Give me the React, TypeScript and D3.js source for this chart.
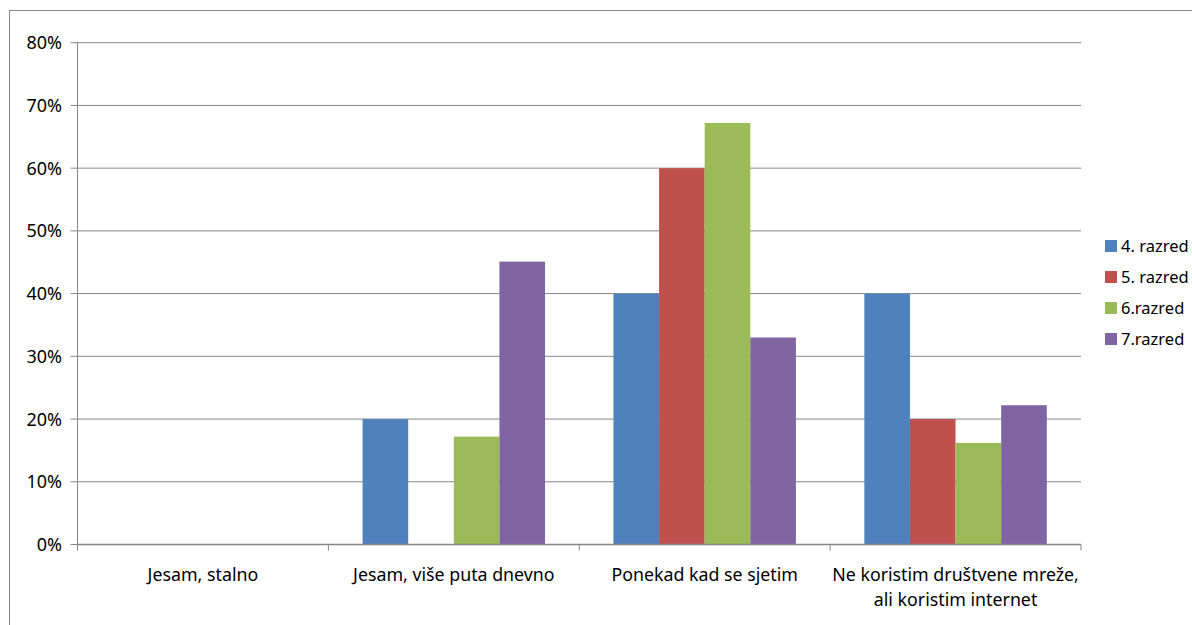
import React from "react";
import * as d3 from "d3";

const categories = [
  "Jesam, stalno",
  "Jesam, više puta dnevno",
  "Ponekad kad se sjetim",
  "Ne koristim društvene mreže,|ali koristim internet",
];
const seriesNames = ["4. razred", "5. razred", "6.razred", "7.razred"];
const seriesColors = ["#4F81BD", "#C0504D", "#9BBB59", "#8064A2"];
const razred4 = [0, 20, 40, 40];
const razred5 = [0, 0, 60, 20];
const razred6 = [0, 17.2, 67.2, 16.2];
const razred7 = [0, 45.1, 33.0, 22.2];
const yTicks = [0, 10, 20, 30, 40, 50, 60, 70, 80];

const seriesValues = [razred4, razred5, razred6, razred7];

export default function App() {
  const W = 1192;
  const H = 625;
  const left = 77.5;
  const right = 1081;
  const top = 42.7;
  const bottom = 544.5;
  const font = "Noto Sans, sans-serif";

  const x0 = d3
    .scaleBand<number>()
    .domain(categories.map((_, i) => i))
    .range([left, right])
    .paddingInner(0)
    .paddingOuter(0);
  const bw = x0.bandwidth();
  const barW = bw / 5.5;
  const x1 = d3
    .scaleBand<number>()
    .domain(seriesNames.map((_, i) => i))
    .range([barW * 0.75, bw - barW * 0.75]);
  const y = d3.scaleLinear().domain([0, 80]).range([bottom, top]);

  const grid = "#868686";

  return (
    <svg
      width={W}
      height={H}
      style={{ position: "absolute", left: 0, top: 0, background: "#fff" }}
    >
      <rect x={9.5} y={10.5} width={W + 20} height={H + 20} fill="#fff" stroke={grid} strokeWidth={1} />
      {yTicks.map((t) => (
        <g key={t}>
          <line x1={left - 7} x2={right} y1={y(t)} y2={y(t)} stroke={grid} strokeWidth={1} />
          <text
            x={62}
            y={y(t)}
            dy="0.36em"
            textAnchor="end"
            fontFamily={font}
            fontSize={18}
            fill="#000"
          >
            {t}%
          </text>
        </g>
      ))}
      {seriesValues.map((vals, s) =>
        vals.map((v, c) =>
          v > 0 ? (
            <rect
              key={`${s}-${c}`}
              x={(x0(c) as number) + (x1(s) as number)}
              y={y(v)}
              width={x1.bandwidth()}
              height={bottom - y(v)}
              fill={seriesColors[s]}
            />
          ) : null
        )
      )}
      <line x1={left} x2={left} y1={top} y2={bottom} stroke={grid} strokeWidth={1} />
      <line x1={left} x2={right} y1={bottom} y2={bottom} stroke={grid} strokeWidth={1.5} />
      {[0, 1, 2, 3, 4].map((i) => {
        const xx = left + i * bw;
        return <line key={i} x1={xx} x2={xx} y1={bottom} y2={bottom + 6} stroke={grid} strokeWidth={1} />;
      })}
      {categories.map((c, i) => {
        const lines = c.split("|");
        const cx = (x0(i) as number) + bw / 2;
        return (
          <text key={i} x={cx} textAnchor="middle" fontFamily={font} fontSize={17.8} fill="#000">
            {lines.map((l, j) => (
              <tspan key={j} x={cx} y={581 + j * 25}>
                {l}
              </tspan>
            ))}
          </text>
        );
      })}
      {seriesNames.map((n, i) => {
        const cy = 246 + i * 31;
        return (
          <g key={n}>
            <rect x={1105} y={cy - 6} width={12} height={12} fill={seriesColors[i]} />
            <text x={1121} y={cy} dy="0.36em" fontFamily={font} fontSize={16.5} fill="#000">
              {n}
            </text>
          </g>
        );
      })}
    </svg>
  );
}
